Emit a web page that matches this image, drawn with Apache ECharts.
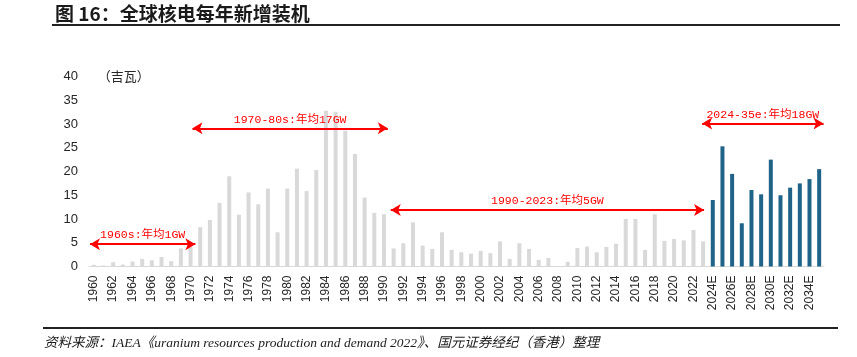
<!DOCTYPE html>
<html>
<head>
<meta charset="utf-8">
<script src="https://cdn.jsdelivr.net/npm/echarts@6/dist/echarts.min.js"></script>
<style>
html,body{margin:0;padding:0;background:#fff;}
#chart{width:857px;height:357px;}
</style>
</head>
<body>
<div id="chart"></div>
<script>
// ---- data ----
var categories = [
  '1960','1961','1962','1963','1964','1965','1966','1967','1968','1969',
  '1970','1971','1972','1973','1974','1975','1976','1977','1978','1979',
  '1980','1981','1982','1983','1984','1985','1986','1987','1988','1989',
  '1990','1991','1992','1993','1994','1995','1996','1997','1998','1999',
  '2000','2001','2002','2003','2004','2005','2006','2007','2008','2009',
  '2010','2011','2012','2013','2014','2015','2016','2017','2018','2019',
  '2020','2021','2022','2023',
  '2024E','2025E','2026E','2027E','2028E','2029E','2030E','2031E','2032E','2033E','2034E','2035E'
];
// GW added per year, 1960-2023 (actual)
var historicValues = [
  0.35, 0.2, 0.9, 0.4, 1.05, 1.6, 1.3, 2.0, 1.1, 3.8,
  4.1, 8.3, 9.8, 13.4, 19.0, 10.9, 15.6, 13.1, 16.4, 7.2,
  16.4, 20.6, 15.9, 20.3, 32.8, 32.6, 28.6, 23.7, 14.5, 11.3,
  11.0, 3.8, 4.9, 9.3, 4.4, 3.7, 7.2, 3.5, 3.0, 2.7,
  3.3, 2.8, 5.3, 1.6, 4.9, 3.7, 1.4, 1.8, 0, 1.0,
  3.9, 4.2, 3.0, 4.1, 4.8, 10.0, 10.0, 3.5, 11.0, 5.4,
  5.8, 5.5, 7.7, 5.3
];
// GW added per year, 2024E-2035E (forecast)
var forecastValues = [14.0, 25.3, 19.5, 9.1, 16.1, 15.2, 22.5, 15.0, 16.6, 17.5, 18.4, 20.5];

var yTicks = [0, 5, 10, 15, 20, 25, 30, 35, 40];

// annotation arrows: [startIndex, endIndex, level (GW), label]
var annotations = [
  [-0.4, 10.5, 4.7, '1960s:年均1GW'],
  [10.2, 30.4, 29.1, '1970-80s:年均17GW'],
  [30.7, 63.1, 11.9, '1990-2023:年均5GW'],
  [62.9, 75.45, 30.1, '2024-35e:年均18GW']
];

var titleText = '图 16：全球核电每年新增装机';
var sourceText = '资料来源：IAEA《uranium resources production and demand 2022》、国元证券经纪（香港）整理';
var unitText = '（吉瓦）';

// ---- build ----
var histSeries = historicValues.concat(forecastValues.map(function(){return '-';}));
var foreSeries = historicValues.map(function(){return '-';}).concat(forecastValues);

var markData = annotations.map(function(a){
  return [
    {coord:[a[0], a[2]], label:{formatter:a[3]}},
    {coord:[a[1], a[2]]}
  ];
});

var chart = echarts.init(document.getElementById('chart'), null, {renderer:'canvas'});
chart.setOption({
  animation:false,
  backgroundColor:'#ffffff',
  grid:{left:89, right:33, top:76.5, bottom:90.5, containLabel:false},
  xAxis:[{
    type:'category',
    data:categories,
    boundaryGap:true,
    axisLine:{show:true, lineStyle:{color:'#d9d9d9', width:1}},
    axisTick:{show:false},
    axisLabel:{
      interval:1, rotate:90, margin:9,
      color:'#262626', fontSize:12, fontFamily:'Liberation Sans, Arial, sans-serif'
    },
    splitLine:{show:false}
  },{
    type:'value', min:-0.5, max:75.5, show:false
  }],
  yAxis:{
    type:'value', min:yTicks[0], max:yTicks[yTicks.length-1], interval:5,
    name:unitText,
    nameLocation:'end',
    nameGap:0,
    nameTextStyle:{align:'left', verticalAlign:'middle', padding:[0,0,0,4], color:'#262626', fontSize:13, fontFamily:'Noto Sans CJK SC'},
    axisLine:{show:false},
    axisTick:{show:false},
    splitLine:{show:false},
    axisLabel:{margin:11, color:'#262626', fontSize:13, fontFamily:'Liberation Sans, Arial, sans-serif'}
  },
  series:[{
    type:'bar',
    data:histSeries,
    barWidth:4,
    barGap:'-100%',
    itemStyle:{color:'#d9d9d9'},
    silent:true
  },{
    type:'bar',
    data:foreSeries,
    barWidth:4,
    barGap:'-100%',
    itemStyle:{color:'#1f6389'},
    silent:true
  },{
    type:'scatter',
    xAxisIndex:1,
    yAxisIndex:0,
    data:[],
    silent:true,
    markLine:{
      silent:true,
      symbol:['arrow','arrow'],
      symbolSize:[9,10],
      lineStyle:{color:'#ff0000', width:2, type:'solid'},
      label:{
        show:true, position:'middle', distance:3,
        color:'#ff0000', fontSize:11.5,
        fontFamily:'Liberation Mono, "Noto Sans CJK SC", monospace'
      },
      emphasis:{disabled:true},
      data:markData
    }
  }],
  graphic:[
    {type:'text', x:55, y:14, style:{text:titleText, fill:'#1a1a1a', font:'bold 19px "Noto Sans CJK SC"', verticalAlign:'middle', align:'left'}},
    {type:'line', shape:{x1:52, y1:25, x2:840, y2:25}, style:{stroke:'#222222', lineWidth:2}},
    {type:'line', shape:{x1:43, y1:328, x2:838, y2:328}, style:{stroke:'#222222', lineWidth:2}},
    {type:'text', x:44, y:343, style:{text:sourceText, fill:'#1a1a1a', font:'italic 13.5px "Liberation Serif", "Noto Sans CJK SC"', verticalAlign:'middle', align:'left'}}
  ]
});
</script>
</body>
</html>
